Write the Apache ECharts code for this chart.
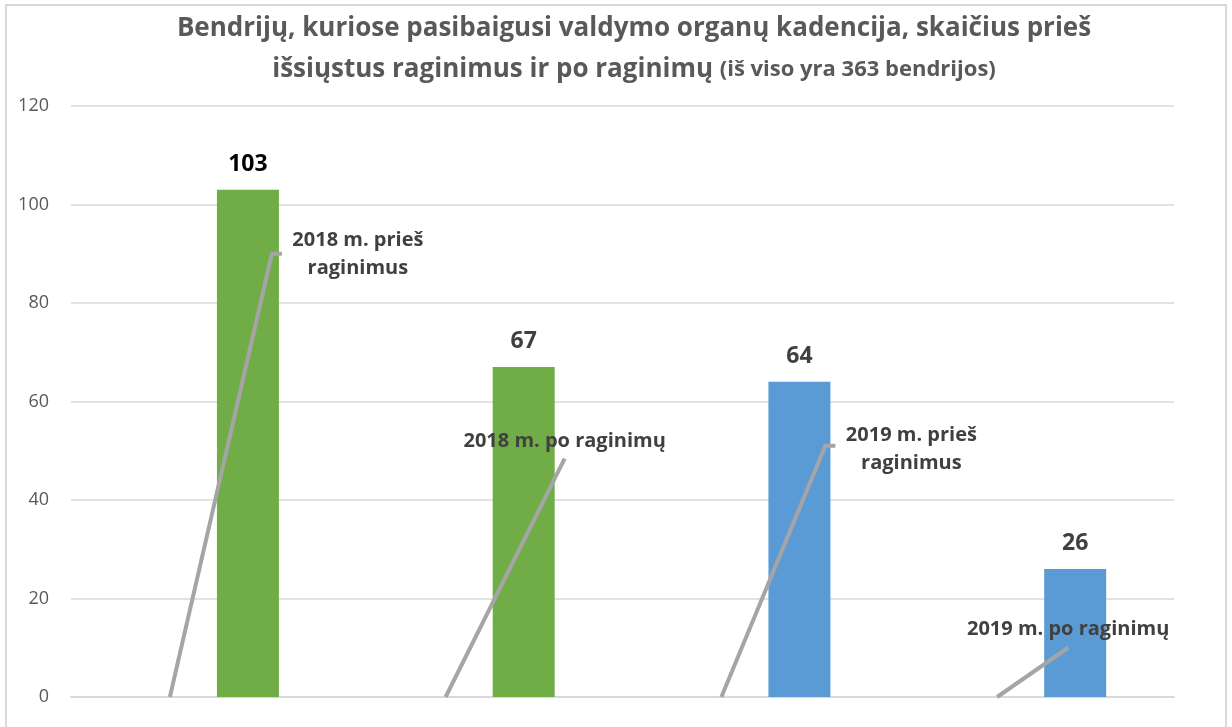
<!DOCTYPE html>
<html>
<head>
<meta charset="utf-8">
<script src="https://cdn.jsdelivr.net/npm/echarts@6/dist/echarts.min.js"></script>
<style>
html, body { margin: 0; padding: 0; background: #fff; }
#chart {
  position: absolute; left: 5px; top: 4px;
  width: 1222px; height: 730px;
  border: 2px solid #d9d9d9; box-sizing: border-box;
}
</style>
</head>
<body>
<div id="chart"></div>
<script>
// duomenys
const categories = ['2018 m. prieš raginimus', '2018 m. po raginimų', '2019 m. prieš raginimus', '2019 m. po raginimų'];
const labelText = ['2018 m. prieš\nraginimus', '2018 m. po raginimų', '2019 m. prieš\nraginimus', '2019 m. po raginimų'];
const counts = [103, 67, 64, 26];
const hiddenValues = [0, 0, 0, 0];
const guideLevel = [90, 48.4, 51, 10];
const yTicks = [0, 20, 40, 60, 80, 100, 120];

const barColors = ['#70AD47', '#70AD47', '#5B9BD5', '#5B9BD5'];
const FONT = '"Open Sans", "DejaVu Sans", sans-serif';

const chart = echarts.init(document.getElementById('chart'));

// leader lines and labels of the hidden series (moved data labels like in Excel)
const guideLayout = [
  { dxTop: 63, tail: 10, tx: 86, ty: 1 },
  { dxTop: 80, tail: 0, tx: 0, ty: -17 },
  { dxTop: 65, tail: 10, tx: 86, ty: 3 },
  { dxTop: 32, tail: 0, tx: 0, ty: -18 }
];

function renderGuide(params, api) {
  const i = api.value(0);
  const base = api.coord([i, 0]);
  const top = api.coord([i, api.value(1)]);
  const L = guideLayout[i];
  const x0 = base[0] - 39;
  const x1 = base[0] + L.dxTop;
  const pts = [[x0, base[1]], [x1, top[1]]];
  if (L.tail) pts.push([x1 + L.tail, top[1]]);
  return {
    type: 'group',
    children: [
      {
        type: 'polyline',
        shape: { points: pts },
        style: { stroke: '#A5A5A5', lineWidth: 4, fill: null }
      },
      {
        type: 'text',
        style: {
          x: x1 + L.tx, y: top[1] + L.ty,
          text: labelText[i],
          align: 'center', verticalAlign: 'middle',
          font: 'bold 20px ' + FONT,
          lineHeight: 28,
          fill: '#404040'
        }
      }
    ]
  };
}

const option = {
  animation: false,
  title: {
    text: 'Bendrijų, kuriose pasibaigusi valdymo organų kadencija, skaičius prieš\n{b|išsiųstus raginimus ir po raginimų} {s|(iš viso yra 363 bendrijos)}',
    left: 627,
    textAlign: 'center',
    top: 2,
    padding: 0,
    textStyle: {
      fontFamily: FONT,
      fontSize: 26,
      fontWeight: 'bold',
      color: '#595959',
      lineHeight: 41,
      rich: {
        b: { fontFamily: FONT, fontSize: 26, fontWeight: 'bold', color: '#595959', lineHeight: 41 },
        s: { fontFamily: FONT, fontSize: 22, fontWeight: 'bold', color: '#595959', lineHeight: 41 }
      }
    }
  },
  grid: { left: 64, right: 51, top: 100, bottom: 35 },
  xAxis: {
    type: 'category',
    data: categories,
    axisLine: { lineStyle: { color: '#D9D9D9', width: 2 } },
    axisTick: { show: false },
    axisLabel: { show: false }
  },
  yAxis: {
    type: 'value',
    min: yTicks[0],
    max: yTicks[yTicks.length - 1],
    interval: 20,
    axisLine: { show: false },
    axisTick: { show: false },
    axisLabel: { color: '#595959', fontSize: 18, fontFamily: FONT, margin: 22 },
    splitLine: { lineStyle: { color: '#D9D9D9', width: 1.5 } }
  },
  series: [
    {
      name: 'hidden',
      type: 'bar',
      data: hiddenValues,
      barWidth: 62,
      itemStyle: { color: 'transparent' },
      silent: true
    },
    {
      name: 'Bendrijų skaičius',
      type: 'bar',
      barWidth: 62,
      barGap: '26%',
      data: counts.map((v, i) => ({
        value: v,
        itemStyle: { color: barColors[i] },
        label: { color: i === 0 ? '#000000' : '#404040' }
      })),
      label: {
        show: true,
        position: 'top',
        distance: 14,
        fontFamily: FONT,
        fontSize: 23,
        fontWeight: 'bold'
      }
    },
    {
      name: 'guides',
      type: 'custom',
      renderItem: renderGuide,
      data: guideLevel.map((v, i) => [i, v]),
      silent: true,
      z: 5
    }
  ]
};

chart.setOption(option);
window.addEventListener('resize', () => chart.resize());
</script>
</body>
</html>
